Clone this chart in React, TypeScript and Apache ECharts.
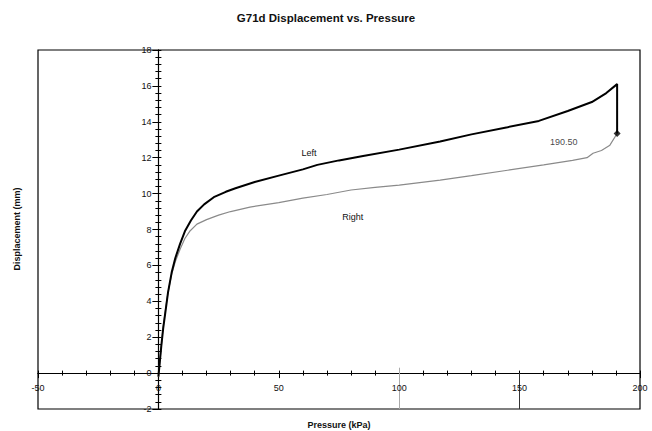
import React, { useEffect, useRef } from "react";
import * as echarts from "echarts";

const TITLE = "G71d Displacement vs. Pressure";
const X_NAME = "Pressure (kPa)";
const Y_NAME = "Displacement (mm)";

const xTickLabels: number[] = [-50, 0, 50, 100, 150, 200];
const yTickLabels: number[] = [-2, 0, 2, 4, 6, 8, 10, 12, 14, 16, 18];

const leftData: [number, number][] = [
  [0, -0.2], [0.5, 0.5], [1.2, 1.5], [2, 2.5], [3, 3.5], [4, 4.5], [5.5, 5.6],
  [7, 6.4], [9, 7.2], [11, 7.9], [13.5, 8.5], [16, 9.0], [19, 9.4], [23, 9.8],
  [28, 10.1], [32, 10.3], [40, 10.65], [50, 11.0], [60, 11.35], [66, 11.6],
  [75, 11.85], [85, 12.1], [100, 12.45], [117, 12.9], [130, 13.3], [145, 13.7],
  [158, 14.05], [170, 14.6], [180, 15.1], [186, 15.6], [190.5, 16.1], [190.5, 13.35],
];

const rightData: [number, number][] = [
  [0, -0.2], [0.5, 0.5], [1.2, 1.5], [2, 2.6], [3, 3.6], [4, 4.5], [5.5, 5.5],
  [7, 6.2], [9, 6.9], [11, 7.5], [13, 7.9], [16, 8.3], [20, 8.55], [25, 8.8],
  [30, 9.0], [38, 9.25], [50, 9.5], [60, 9.75], [70, 9.95], [80, 10.2],
  [90, 10.35], [100, 10.47], [117, 10.75], [130, 11.0], [145, 11.3], [160, 11.6],
  [172, 11.85], [178, 12.0], [180.5, 12.25], [184, 12.4], [187.5, 12.7], [190.5, 13.35],
];

const endPoint: [number, number][] = [[190.5, 13.35]];
const endLabel = "190.50";
const leftLabelPos: [number, number] = [62.5, 12.26];
const rightLabelPos: [number, number] = [80.7, 8.7];

const FONT = "Liberation Sans, Arial, sans-serif";

const GRID = { left: 38, right: 12, top: 50, bottom: 22 };
const W = 652;
const H = 431;

export default function App() {
  const ref = useRef<HTMLDivElement>(null);
  useEffect(() => {
    if (!ref.current) return;
    const chart = echarts.init(ref.current, null, { renderer: "svg" });
    const tickStyle = { color: "#000", width: 1 };
    const lineStyle = { color: "#000", width: 1.1 };
    const baseX = {
      type: "value" as const,
      min: -50,
      max: 200,
      interval: 50,
      splitLine: { show: false },
      axisLabel: { show: false },
      minorTick: { show: true, splitNumber: 5, length: 2.5, lineStyle: tickStyle },
    };
    const baseY = {
      type: "value" as const,
      min: -2,
      max: 18,
      interval: 2,
      splitLine: { show: false },
      axisLabel: { show: false },
      minorTick: { show: true, splitNumber: 5, length: 3, lineStyle: tickStyle },
    };
    const labelText = {
      fontFamily: FONT,
      fontSize: 9,
      color: "#111",
    };
    const tickMarks = [
      ...xTickLabels.map((v) => ({
        coord: [v, 0],
        value: v,
        label: { show: true, position: "bottom", distance: 10, formatter: String(v), ...labelText },
      })),
      ...yTickLabels.map((v) => ({
        coord: [0, v],
        value: v,
        label: { show: true, position: "left", distance: 7, formatter: String(v), ...labelText },
      })),
    ];
    chart.setOption({
      animation: false,
      backgroundColor: "#fff",
      title: {
        text: TITLE,
        left: "center",
        top: 7,
        textStyle: { fontFamily: FONT, fontSize: 11.5, fontWeight: "bold", color: "#111" },
      },
      grid: {
        ...GRID,
        show: false,
        containLabel: false,
        outerBoundsMode: "none",
      },
      graphic: [
        {
          type: "rect",
          silent: true,
          z: 0,
          shape: {
            x: GRID.left,
            y: GRID.top,
            width: W - GRID.left - GRID.right,
            height: H - GRID.top - GRID.bottom,
          },
          style: { fill: "none", stroke: "#000", lineWidth: 1.2 },
        },
        {
          type: "text",
          silent: true,
          x: 339,
          y: 425,
          style: {
            text: X_NAME,
            fontFamily: FONT,
            fontSize: 9,
            fontWeight: "bold",
            fill: "#111",
            textAlign: "center",
            textVerticalAlign: "middle",
          },
        },
        {
          type: "text",
          silent: true,
          x: 17,
          y: 229,
          rotation: Math.PI / 2,
          style: {
            text: Y_NAME,
            fontFamily: FONT,
            fontSize: 9,
            fontWeight: "bold",
            fill: "#111",
            textAlign: "center",
            textVerticalAlign: "middle",
          },
        },
      ],
      xAxis: [
        {
          ...baseX,
          position: "bottom",
          axisLine: { show: true, onZero: true, lineStyle },
          axisTick: { show: true, length: 5, lineStyle: tickStyle },
        },
        {
          ...baseX,
          position: "bottom",
          axisLine: { show: true, onZero: true, onZeroAxisIndex: 1, lineStyle },
          axisTick: { show: true, inside: true, length: 2.5, lineStyle: tickStyle },
        },
      ],
      yAxis: [
        {
          ...baseY,
          position: "left",
          axisLine: { show: true, onZero: true, lineStyle },
          axisTick: { show: true, length: 6, lineStyle: tickStyle },
        },
        {
          ...baseY,
          position: "left",
          axisLine: { show: true, onZero: true, onZeroAxisIndex: 1, lineStyle },
          axisTick: { show: true, inside: true, length: 3, lineStyle: tickStyle },
        },
      ],
      series: [
        {
          name: "Right",
          type: "line",
          data: rightData,
          showSymbol: false,
          symbol: "none",
          lineStyle: { color: "#8a8a8a", width: 1.2 },
          z: 2,
          markPoint: {
            symbol: "circle",
            symbolSize: 0,
            silent: true,
            label: { show: true, formatter: "Right", ...labelText },
            data: [{ coord: rightLabelPos, value: "Right" }],
          },
          markLine: {
            silent: true,
            symbol: "none",
            label: { show: false },
            data: [
              [
                { coord: [100, 0.3], lineStyle: { color: "#aaa", width: 1, type: "solid" } },
                { coord: [100, -2] },
              ],
              [
                { coord: [150, 0], lineStyle: { color: "#333", width: 1, type: "solid" } },
                { coord: [150, -2] },
              ],
            ],
          },
        },
        {
          name: "Left",
          type: "line",
          data: leftData,
          showSymbol: false,
          symbol: "none",
          lineStyle: { color: "#000", width: 2 },
          z: 3,
          markPoint: {
            symbol: "circle",
            symbolSize: 0,
            silent: true,
            label: { show: true, formatter: "Left", ...labelText },
            data: [{ coord: leftLabelPos, value: "Left" }, ...tickMarks],
          },
        },
        {
          name: "End",
          type: "scatter",
          data: endPoint,
          symbol: "diamond",
          symbolSize: 7,
          itemStyle: { color: "#000" },
          z: 4,
          label: {
            show: true,
            formatter: endLabel,
            position: "left",
            distance: 36,
            offset: [0, 9],
            ...labelText,
          },
        },
      ],
    });
    return () => chart.dispose();
  }, []);
  return (
    <div
      ref={ref}
      style={{ position: "fixed", left: 0, top: 0, width: W, height: H, background: "#fff" }}
    />
  );
}
